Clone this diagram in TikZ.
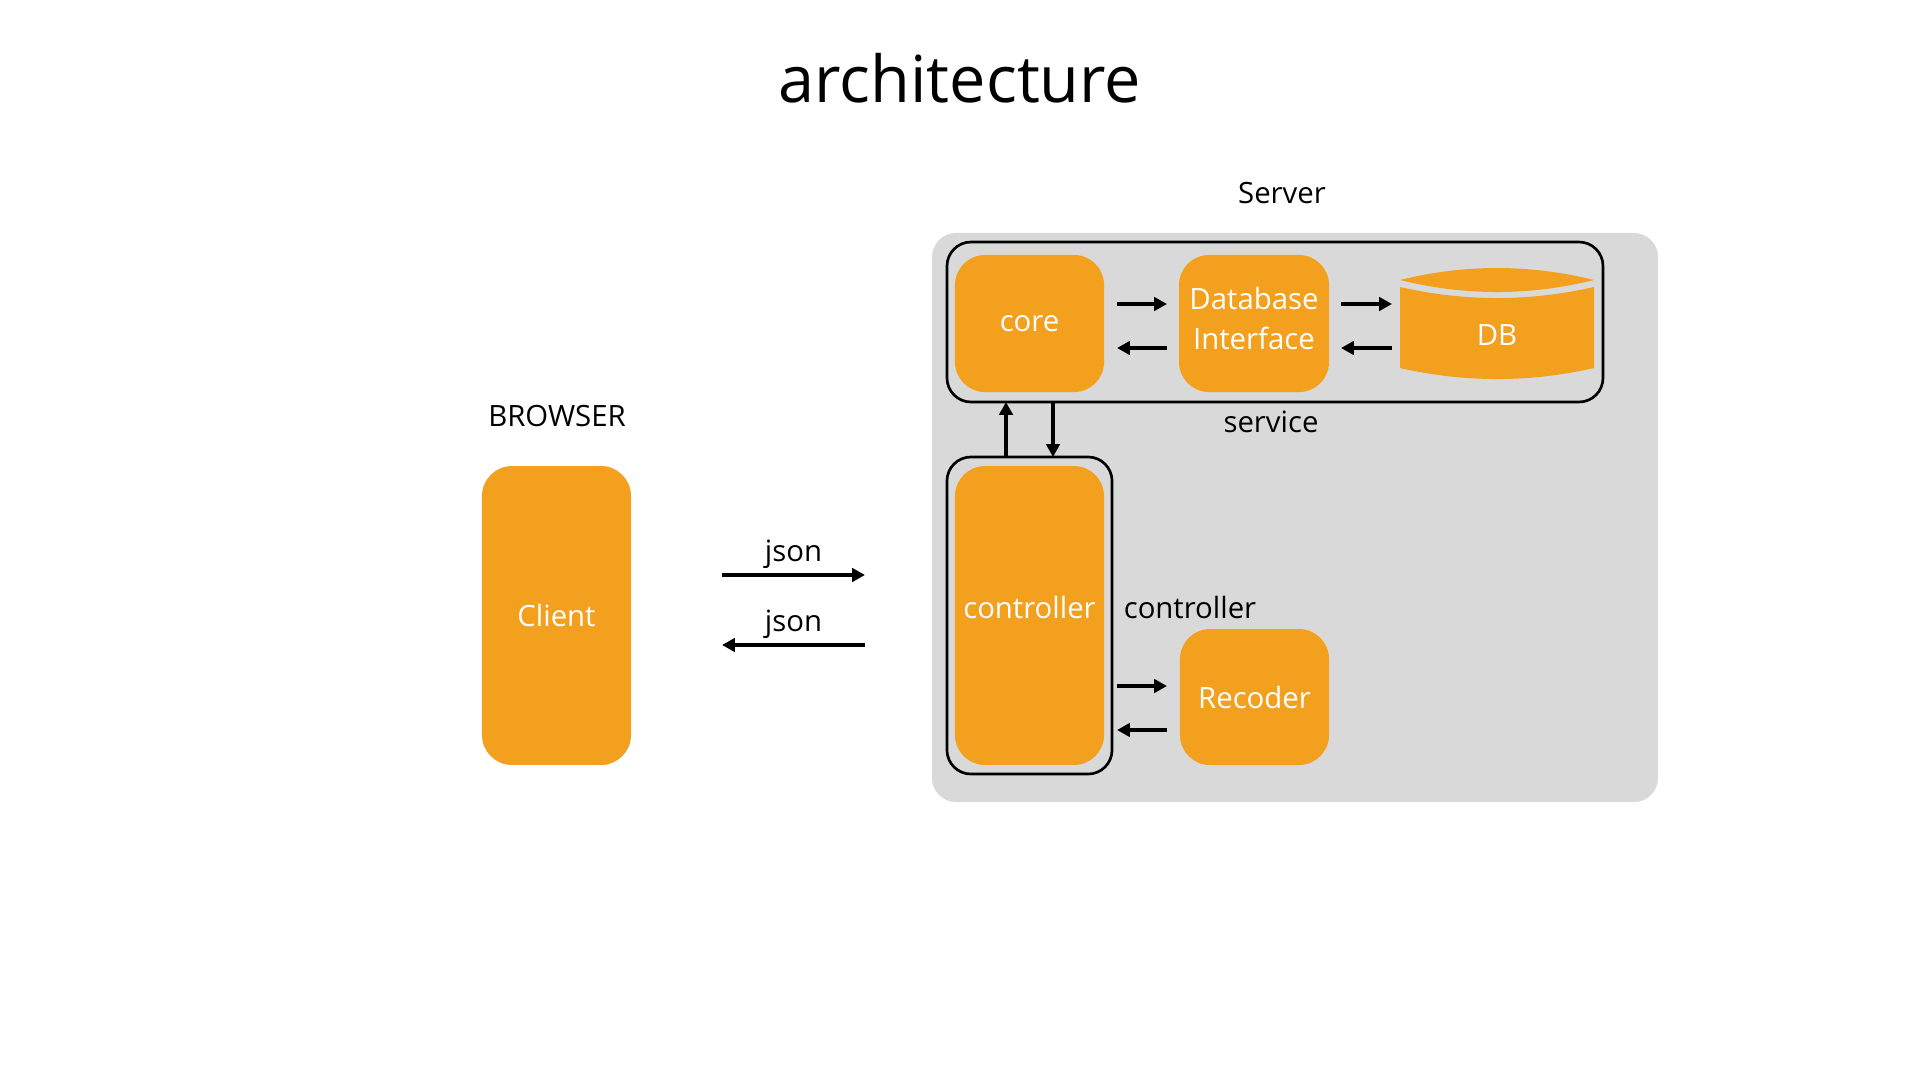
\documentclass[tikz,border=0pt]{standalone}
\usepackage{fontspec}
\setmainfont{Open Sans}
\usetikzlibrary{arrows.meta,calc}
\definecolor{boxorange}{HTML}{F4A01F}
\definecolor{bggray}{HTML}{D9D9D9}
\begin{document}
\begin{tikzpicture}[x=0.375pt,y=-0.375pt,
  every node/.style={font=\fontsize{11}{15}\selectfont},
  obox/.style={fill=boxorange, rounded corners=11.25pt, text=white, inner sep=0pt, outer sep=0pt, minimum width=55.9pt, align=center},
  frame/.style={draw=black, line width=1pt, rounded corners=9pt, inner sep=0pt, outer sep=0pt},
  arr/.style={line width=1.5pt, -{Triangle[length=4.8pt,width=5pt]}},
  lbl/.style={text=black}
]
\useasboundingbox (0,0) rectangle (1920,1080);

% title and group labels
\node[font=\fontsize{24.3}{28}\selectfont] (title) at (960,78) {architecture};
\node[lbl] (serverlbl) at (1282,193) {Server};
\node[lbl] (browserlbl) at (557,416) {BROWSER};

% server area
\node[fill=bggray, rounded corners=9pt, minimum width=272.25pt, minimum height=213.4pt, inner sep=0pt, outer sep=0pt] (server) at (1295,517.5) {};
\node[frame, minimum width=246pt, minimum height=60pt] (svc) at (1275,322) {};
\node[frame, minimum width=61.9pt, minimum height=118.9pt] (ctrlbox) at (1029.5,615.5) {};
\node[lbl] (svclbl) at (1271,422) {service};
\node[lbl] (ctrllbl) at (1190,607) {controller};

% boxes
\node[obox, minimum height=51.4pt] (core) at (1029.5,323.5) {core};
\node[obox, minimum width=56.25pt, minimum height=51.4pt, text depth=3.6pt] (dbi) at (1254,323.5) {Database\\Interface};
\node[obox, minimum height=112.1pt, text depth=6pt] (ctrl) at (1029.5,615.5) {controller};
\node[obox, minimum height=51pt] (rec) at (1254.5,697) {Recoder};
\node[obox, minimum height=112.1pt] (client) at (556.5,615.5) {Client};

% DB cylinder
\fill[boxorange] (1400,280) .. controls (1464.7,264) and (1529.3,264) .. (1594,280)
  .. controls (1529.3,296) and (1464.7,296) .. (1400,280) -- cycle;
\fill[boxorange] (1400,287) -- (1400,368)
  .. controls (1464.7,382.7) and (1529.3,382.7) .. (1594,368)
  -- (1594,287)
  .. controls (1529.3,301.7) and (1464.7,301.7) .. (1400,287) -- cycle;
\node[inner sep=0pt, outer sep=0pt, minimum width=72.75pt, minimum height=41.6pt,
  label={[text=white, yshift=-4.6pt]center:DB}] (db) at (1497,322.5) {};

% connectors
\draw[arr] ($(core.east)+(13,-19.5)$) -- ($(dbi.west)+(-12,-19.5)$);
\draw[arr] ($(dbi.west)+(-12,24.5)$) -- ($(core.east)+(13,24.5)$);
\draw[arr] ($(dbi.east)+(12,-19.5)$) -- ($(db.west)+(-8,-18.5)$);
\draw[arr] ($(db.west)+(-8,25.5)$) -- ($(dbi.east)+(12,24.5)$);
\draw[arr] ($(ctrl.east)+(13,70.5)$) -- ($(rec.west)+(-13,-11)$);
\draw[arr] ($(rec.west)+(-13,33)$) -- ($(ctrl.east)+(13,114.5)$);
\coordinate (u1) at ($(ctrlbox.north)+(-23.5,0)$);
\coordinate (d1) at ($(ctrlbox.north)+(23.5,0)$);
\draw[arr] (u1) -- (u1 |- svc.south);
\draw[arr] (d1 |- svc.south) -- (d1);
\draw[arr] ($(client.east)+(91,-40.5)$) -- ($(ctrlbox.west)+(-82,-40.5)$) node[midway, above=-1.7pt, lbl] {json};
\draw[arr] ($(ctrlbox.west)+(-82,29.5)$) -- ($(client.east)+(91,29.5)$) node[midway, above=-1.7pt, lbl] {json};
\end{tikzpicture}
\end{document}
